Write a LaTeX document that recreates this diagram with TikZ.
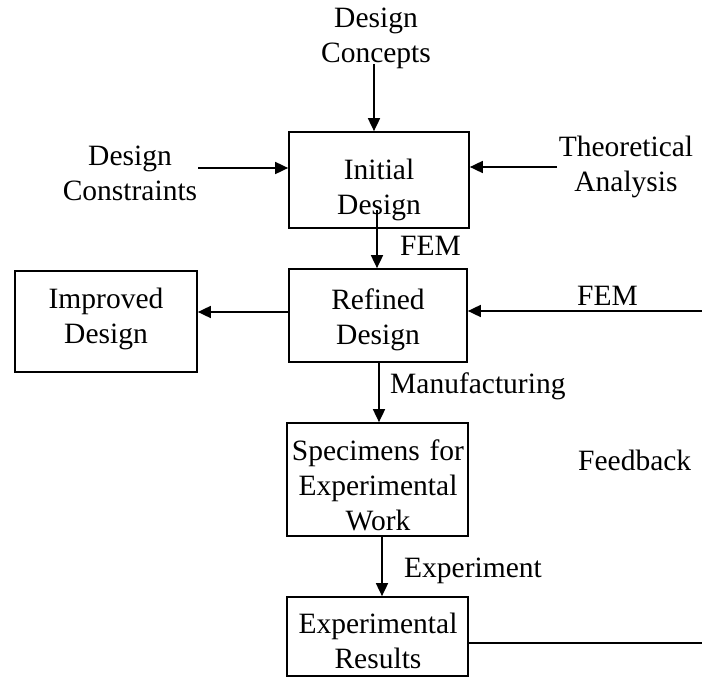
\documentclass[tikz,border=0pt]{standalone}
\usepackage{fontspec}
\setmainfont{Liberation Serif}
\usetikzlibrary{arrows.meta}
\begin{document}
\begin{tikzpicture}[x=1pt,y=-1pt,
  box/.style={draw,line width=1.7pt,inner sep=0pt},
  txt/.style={font=\fontsize{29.5}{35}\selectfont,inner sep=0pt,align=center,text width=200pt,anchor=base},
  lbl/.style={font=\fontsize{29.5}{35}\selectfont,inner sep=0pt,anchor=base west},
  arr/.style={line width=1.7pt,-{Triangle[length=13pt,width=12pt]}},
  ln/.style={line width=1.7pt}]
\useasboundingbox (0,0) rectangle (702,677);
% boxes
\node[box,minimum width=180pt,minimum height=96pt] (initial) at (379,180) {};
\node[box,minimum width=178pt,minimum height=93pt] (refined) at (378,315.5) {};
\node[box,minimum width=182pt,minimum height=101pt] (improved) at (106,321.5) {};
\node[box,minimum width=181pt,minimum height=113pt] (spec) at (377.5,479.5) {};
\node[box,minimum width=181pt,minimum height=79pt] (results) at (377.5,636.5) {};
% box texts
\node[txt] (initialtxt) at (379,179) {Initial\\Design};
\node[txt] (refinedtxt) at (378,309) {Refined\\Design};
\node[txt] (improvedtxt) at (106,308) {Improved\\Design};
\node[txt] (spectxt) at (378,460) {Specimens for\\Experimental\\Work};
\node[txt] (resultstxt) at (378,633) {Experimental\\Results};
% free texts
\node[txt] (concepts) at (376,28) {Design\\Concepts};
\node[txt] (constraints) at (130,165) {Design\\Constraints};
\node[txt] (theory) at (626,157) {Theoretical\\Analysis};
\node[lbl] (fem1) at (400,255) {FEM};
\node[lbl] (fem2) at (577,305) {FEM};
\node[lbl] (manuf) at (390,393) {Manufacturing};
\node[lbl] (feedback) at (578,470) {Feedback};
\node[lbl] (exper) at (404,577) {Experiment};
% free ends
\coordinate (c1) at (374,64);
\coordinate (c2) at (198,168);
\coordinate (c3) at (557,167);
\coordinate (c4) at (377,210);
\coordinate (c5) at (702,311);
\coordinate (c6) at (702,643);
% connectors
\draw[arr] (c1) -- (c1 |- initial.north);
\draw[arr] (c2) -- (c2 -| initial.west);
\draw[arr] (c3) -- (c3 -| initial.east);
\draw[arr] (c4) -- (c4 |- refined.north);
\draw[arr] (refined.west |- 0,312) -- (improved.east |- 0,312);
\draw[arr] (c5) -- (c5 -| refined.east);
\draw[arr] (refined.south -| 379,0) -- (spec.north -| 379,0);
\draw[arr] (spec.south -| 382,0) -- (results.north -| 382,0);
\draw[ln] (results.east |- c6) -- (c6);
\end{tikzpicture}
\end{document}
